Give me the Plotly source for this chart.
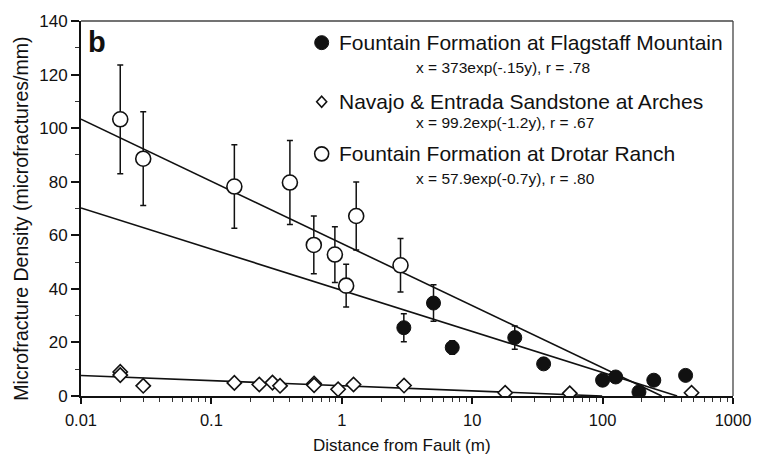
import numpy as np
import plotly.graph_objects as go

# --- data -----------------------------------------------------------------
# Fountain Formation at Flagstaff Mountain (filled circles)
flag_x = [2.99, 5.05, 7.03, 21.2, 35.3, 100, 126, 190, 247, 433]
flag_y = [25.5, 34.7, 18.1, 21.8, 12.0, 5.9, 7.1, 1.5, 5.9, 7.7]
flag_err = [5.2, 6.8, 2.5, 4.3, 1.5, 0, 0, 0, 0, 0]

# Navajo & Entrada Sandstone at Arches (open diamonds)
nav_x = [0.02, 0.02, 0.03, 0.15, 0.233, 0.294, 0.336, 0.613, 0.613, 0.937, 1.23, 3.0, 17.9, 56, 481]
nav_y = [9.0, 7.8, 3.8, 4.9, 4.3, 5.0, 3.8, 4.7, 4.0, 2.5, 4.3, 3.9, 1.2, 1.0, 1.2]

# Fountain Formation at Drotar Ranch (open circles)
dro_x = [0.02, 0.03, 0.15, 0.40, 0.61, 0.885, 1.08, 1.29, 2.82]
dro_y = [103.3, 88.6, 78.2, 79.7, 56.4, 52.8, 41.2, 67.2, 48.8]
dro_err = [20.3, 17.5, 15.6, 15.7, 10.8, 10.4, 8.0, 12.7, 10.0]

# exponential fits x = A * exp(-k * y), drawn as y = ln(A / x) / k
fit_A = [373, 99.2, 284]
fit_k = [0.15, 1.2, 0.0992]

legend_names = [
    "Fountain Formation at Flagstaff Mountain",
    "Navajo & Entrada Sandstone at Arches",
    "Fountain Formation at Drotar Ranch",
]
legend_eqs = [
    "x = 373exp(-.15y), r = .78",
    "x = 99.2exp(-1.2y), r = .67",
    "x = 57.9exp(-0.7y), r = .80",
]

x_ticks = [0.01, 0.1, 1, 10, 100, 1000]
x_tick_text = ["0.01", "0.1", "1", "10", "100", "1000"]

FONT = "Liberation Sans, Arial, Helvetica, sans-serif"
INK = "#111111"

fig = go.Figure()

# fit lines
for A, k in zip(fit_A, fit_k):
    xs = np.geomspace(0.01, A, 60)
    ys = np.log(A / xs) / k
    fig.add_trace(go.Scatter(x=xs, y=ys, mode="lines",
                             line=dict(color=INK, width=1.6),
                             showlegend=False, hoverinfo="skip"))

err_style = dict(type="data", color=INK, thickness=1.5, width=3)

fig.add_trace(go.Scatter(
    x=nav_x, y=nav_y, mode="markers", showlegend=False,
    marker=dict(symbol="diamond", size=11, color="white",
                line=dict(color=INK, width=1.6))))

fig.add_trace(go.Scatter(
    x=dro_x, y=dro_y, mode="markers", showlegend=False,
    error_y=dict(array=dro_err, **err_style),
    marker=dict(symbol="circle", size=15, color="white",
                line=dict(color=INK, width=1.6))))

fig.add_trace(go.Scatter(
    x=flag_x, y=flag_y, mode="markers", showlegend=False,
    error_y=dict(array=flag_err, **err_style),
    marker=dict(symbol="circle", size=14, color=INK,
                line=dict(color=INK, width=1))))

# --- layout geometry (pixels) ---------------------------------------------
W, H = 763, 460
L, R, T, B = 81, 21, 15, 64
PW, PH = W - L - R, H - T - B


def px(x):
    return (x - L) / PW


def py(y):
    return (H - B - y) / PH


annotations = [
    dict(text="<b>b</b>", x=px(97), y=py(36), xref="paper", yref="paper",
         showarrow=False, xanchor="center", yanchor="middle",
         font=dict(size=29, family=FONT, color=INK)),
    dict(text="Distance from Fault (m)", x=px(406), y=py(446),
         xref="paper", yref="paper", showarrow=False,
         xanchor="center", yanchor="middle",
         font=dict(size=17, family=FONT, color=INK)),
    dict(text="Microfracture Density (microfractures/mm)", x=px(20), y=py(216),
         xref="paper", yref="paper", showarrow=False, textangle=-90,
         xanchor="center", yanchor="middle",
         font=dict(size=19.5, family=FONT, color=INK)),
]

name_y = [37, 97, 150]
eq_y = [62, 118, 175]
for name, eq, ny, ey in zip(legend_names, legend_eqs, name_y, eq_y):
    annotations.append(dict(text=name, x=px(341), y=py(ny), xref="paper", yref="paper",
                            showarrow=False, xanchor="left", yanchor="middle",
                            font=dict(size=21, family=FONT, color=INK)))
    annotations.append(dict(text=eq, x=px(419), y=py(ey), xref="paper", yref="paper",
                            showarrow=False, xanchor="left", yanchor="middle",
                            font=dict(size=15.5, family=FONT, color=INK)))

mx = px(325)
shapes = [
    # thin frame on top and right
    dict(type="line", xref="paper", yref="paper", x0=0, x1=1, y0=1, y1=1,
         line=dict(color="#444", width=1.3)),
    dict(type="line", xref="paper", yref="paper", x0=1, x1=1, y0=0, y1=1,
         line=dict(color="#444", width=1.3)),
    # legend symbols
    dict(type="circle", xref="paper", yref="paper", xsizemode="pixel", ysizemode="pixel",
         xanchor=mx, yanchor=py(name_y[0]), x0=-7, x1=7, y0=-7, y1=7,
         fillcolor=INK, line=dict(color=INK, width=1)),
    dict(type="path", xref="paper", yref="paper", xsizemode="pixel", ysizemode="pixel",
         xanchor=mx, yanchor=py(name_y[1]), path="M 0,5.5 L 5,0 L 0,-5.5 L -5,0 Z",
         fillcolor="white", line=dict(color=INK, width=1.6)),
    dict(type="circle", xref="paper", yref="paper", xsizemode="pixel", ysizemode="pixel",
         xanchor=mx, yanchor=py(name_y[2]), x0=-7, x1=7, y0=-7, y1=7,
         fillcolor="white", line=dict(color=INK, width=1.6)),
]

minor_x = [m * 10.0 ** e for e in range(-2, 3) for m in range(2, 10)]

fig.update_layout(
    width=W, height=H,
    margin=dict(l=L, r=R, t=T, b=B),
    plot_bgcolor="white", paper_bgcolor="white",
    showlegend=False,
    font=dict(family=FONT, color=INK),
    annotations=annotations,
    shapes=shapes,
    xaxis=dict(type="log", range=[-2, 3], tickvals=x_ticks, ticktext=x_tick_text,
               ticks="outside", ticklen=6, tickwidth=1.5, tickcolor=INK,
               showline=True, linecolor=INK, linewidth=2,
               showgrid=False, zeroline=False,
               tickfont=dict(size=16.5, family=FONT, color=INK),
               ticklabelstandoff=2,
               minor=dict(tickvals=minor_x, ticks="outside", ticklen=4,
                          tickwidth=1, tickcolor="#333", showgrid=False)),
    yaxis=dict(range=[0, 140], dtick=20, tick0=0,
               ticks="outside", ticklen=8, tickwidth=1.5, tickcolor=INK,
               showline=True, linecolor=INK, linewidth=2,
               showgrid=False, zeroline=False,
               tickfont=dict(size=17, family=FONT, color=INK),
               minor=dict(dtick=10, ticks="outside", ticklen=4,
                          tickwidth=1, tickcolor="#333", showgrid=False)),
)

fig.write_html("out.html")
